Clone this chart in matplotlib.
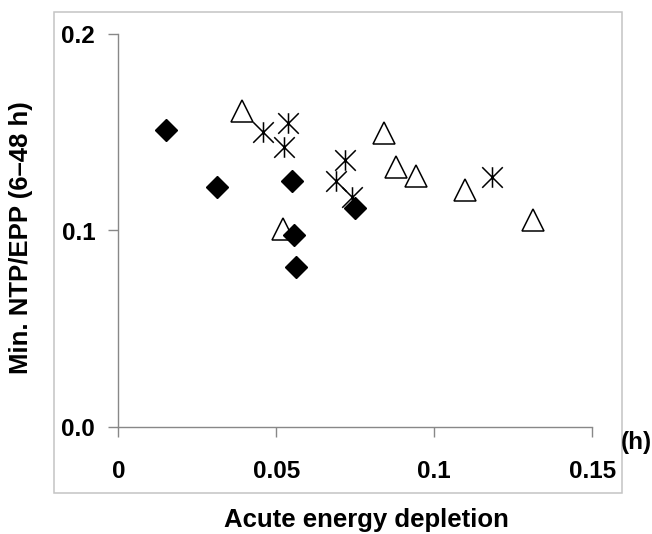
import matplotlib
matplotlib.use("Agg")
import matplotlib.pyplot as plt
from matplotlib.path import Path
from matplotlib.patches import Rectangle

plt.rcParams['font.family'] = ['Liberation Sans', 'DejaVu Sans']
plt.rcParams['font.weight'] = 'bold'

# Data
diamond_x = [0.0150, 0.0313, 0.0551, 0.0555, 0.0561, 0.0750]
diamond_y = [0.1512, 0.1223, 0.1252, 0.0977, 0.0815, 0.1113]
triangle_x = [0.0390, 0.0522, 0.0841, 0.0878, 0.0941, 0.1097, 0.1313]
triangle_y = [0.1611, 0.1008, 0.1495, 0.1324, 0.1278, 0.1208, 0.1055]
star_x = [0.0457, 0.0538, 0.0523, 0.0717, 0.0689, 0.0739, 0.1183]
star_y = [0.1500, 0.1546, 0.1424, 0.1359, 0.1254, 0.1169, 0.1271]

x_ticks = [0, 0.05, 0.1, 0.15]
x_ticklabels = ["0", "0.05", "0.1", "0.15"]
y_ticks = [0.0, 0.1, 0.2]
y_ticklabels = ["0.0", "0.1", "0.2"]

fig = plt.figure(figsize=(6.52, 5.34), dpi=100)
ax = fig.add_axes([118.3 / 652, 1 - 426.7 / 534, 474 / 652, 392.4 / 534])

star_marker = Path([(0, -1), (0, 1), (-1, -1), (1, 1), (-1, 1), (1, -1)],
                   [Path.MOVETO, Path.LINETO] * 3)

ax.plot(triangle_x, triangle_y, linestyle='none', marker='^', markersize=16.5,
        markerfacecolor='white', markeredgecolor='black', markeredgewidth=1.1,
        zorder=3, clip_on=False)
ax.plot(star_x, star_y, linestyle='none', marker=star_marker, markersize=14.8,
        markerfacecolor='none', markeredgecolor='black', markeredgewidth=1.1,
        zorder=4, clip_on=False)
ax.plot(diamond_x, diamond_y, linestyle='none', marker='D', markersize=10.8,
        markerfacecolor='black', markeredgecolor='black', markeredgewidth=1.0,
        zorder=5, clip_on=False)

ax.set_xlim(0, 0.15)
ax.set_ylim(0, 0.2)
ax.set_xticks(x_ticks)
ax.set_xticklabels(x_ticklabels)
ax.set_yticks(y_ticks)
ax.set_yticklabels(y_ticklabels)

for s in ['top', 'right']:
    ax.spines[s].set_visible(False)
for s in ['left', 'bottom']:
    ax.spines[s].set_color('#888888')
    ax.spines[s].set_linewidth(1.0)

ax.tick_params(axis='both', direction='out', length=7.2, width=1.0, color='#888888',
               labelsize=17.5)
ax.tick_params(axis='x', pad=16.5)
ax.tick_params(axis='y', pad=9.4)
for lab in ax.get_xticklabels() + ax.get_yticklabels():
    lab.set_fontweight('bold')

ax.set_xlabel('Acute energy depletion', fontsize=18.5, fontweight='bold')
ax.xaxis.set_label_coords((366.5 - 118.3) / 474, (426.7 - 527) / 392.4)
ax.xaxis.label.set_va('baseline')

ax.set_ylabel('Min. NTP/EPP (6\u201348 h)', fontsize=18.5, fontweight='bold')
ax.yaxis.set_label_coords((21 - 118.3) / 474, (426.7 - 238) / 392.4)
ax.yaxis.label.set_va('center')

fig.text(636 / 652, 1 - 442 / 534, '(h)', ha='center', va='center',
         fontsize=17.5, fontweight='bold')

fig.add_artist(Rectangle((54 / 652, 1 - 493 / 534), (622 - 54) / 652, (493 - 11.5) / 534,
                         transform=fig.transFigure, fill=False,
                         edgecolor='#c4c4c4', linewidth=1.1))

fig.savefig('out.png', dpi=100)
